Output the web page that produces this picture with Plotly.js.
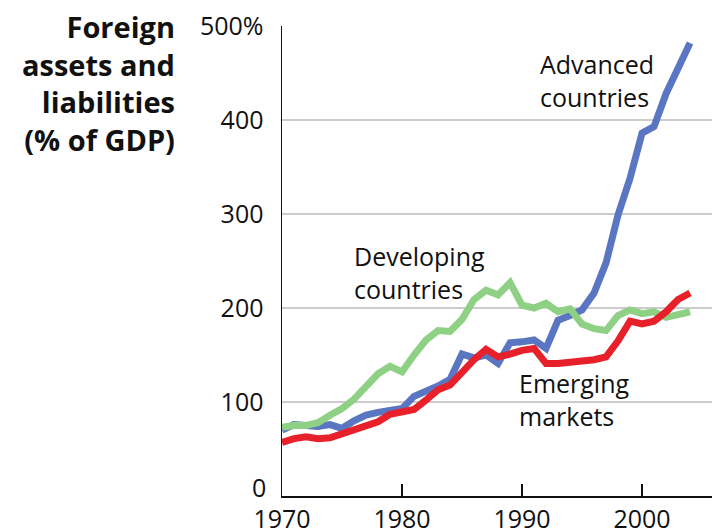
<!DOCTYPE html>
<html>
<head>
<meta charset="utf-8">
<script src="https://cdn.plot.ly/plotly-3.0.1.min.js"></script>
<style>html,body{margin:0;padding:0;background:#fff;}#chart{width:712px;height:531px;}</style>
</head>
<body>
<div id="chart"></div>
<script>
const years = [1970,1971,1972,1973,1974,1975,1976,1977,1978,1979,1980,1981,1982,1983,1984,1985,1986,1987,1988,1989,1990,1991,1992,1993,1994,1995,1996,1997,1998,1999,2000,2001,2002,2003,2004];
const advanced = [70,76,75,74,76,72,80,86,89,91,93,106,111,117,124,151,147,150,141,163,164,166,157,187,192,198,216,248,299,338,386,393,428,457,482];
const developing = [73,75,75,78,86,93,103,116,130,138,132,150,166,176,175,188,209,219,214,227,203,200,205,196,199,183,178,176,192,198,194,196,190,193,196];
const emerging = [57,61,63,61,62,66,70,74,79,87,89,92,102,113,118,132,145,156,148,151,155,157,141,141,142,143,145,148,165,186,183,186,196,209,216];
const yTickVals = [0,100,200,300,400,500];
const yTickText = ['0','100','200','300','400','500%'];
const xTickVals = [1970,1980,1990,2000];
const xTickText = ['1970','1980','1990','2000'];

const FONT = 'Open Sans, Noto Sans, sans-serif';
const traces = [
  {x: years, y: advanced, name: 'Advanced countries', mode: 'lines', line: {color: '#5a76c3', width: 7}},
  {x: years, y: developing, name: 'Developing countries', mode: 'lines', line: {color: '#8fd184', width: 7}},
  {x: years, y: emerging, name: 'Emerging markets', mode: 'lines', line: {color: '#e8202a', width: 7}}
];
// the bottom "0" label sits a little higher than its gridline in the reference
const yTickTextShown = yTickText.map((t, i) => i === 0 ? '' : t);
const layout = {
  width: 712, height: 531,
  margin: {l: 282, r: 0, t: 26, b: 35, pad: 0},
  paper_bgcolor: '#fff', plot_bgcolor: '#fff',
  showlegend: false,
  font: {family: FONT, size: 25, color: '#111'},
  xaxis: {
    range: [1970, 2005.83], tickvals: xTickVals, ticktext: xTickText,
    showgrid: false, zeroline: false, showline: true, linecolor: '#111', linewidth: 1.5,
    ticks: 'inside', ticklen: 12, tickwidth: 1.5, tickcolor: '#111',
    tickfont: {family: FONT, size: 25, color: '#111'}, fixedrange: true
  },
  yaxis: {
    range: [0, 500], tickvals: yTickVals, ticktext: yTickTextShown,
    showgrid: true, gridcolor: '#cccccc', gridwidth: 2, zeroline: false,
    showline: true, linecolor: '#111', linewidth: 1.5, ticks: '',
    ticklabelstandoff: 12,
    tickfont: {family: FONT, size: 25, color: '#111'}, fixedrange: true
  },
  annotations: [
    {xref: 'paper', yref: 'y', x: -0.0326, y: yTickVals[0], yshift: 9, xanchor: 'right', yanchor: 'middle', showarrow: false,
     text: yTickText[0], font: {family: FONT, size: 25, color: '#111'}},
    {xref: 'paper', yref: 'paper', x: -0.244, y: 0.8787, xanchor: 'right', yanchor: 'middle', align: 'right', showarrow: false,
     text: '<b>Foreign<br>assets and<br>liabilities<br>(% of GDP)</b>', font: {family: FONT, size: 29, color: '#111'}},
    {x: 1991.33, y: 442, xanchor: 'left', yanchor: 'middle', align: 'left', showarrow: false,
     text: 'Advanced<br>countries', font: {family: FONT, size: 25, color: '#111'}},
    {x: 1975.83, y: 238, xanchor: 'left', yanchor: 'middle', align: 'left', showarrow: false,
     text: 'Developing<br>countries', font: {family: FONT, size: 25, color: '#111'}},
    {x: 1989.58, y: 103, xanchor: 'left', yanchor: 'middle', align: 'left', showarrow: false,
     text: 'Emerging<br>markets', font: {family: FONT, size: 25, color: '#111'}}
  ]
};
Plotly.newPlot('chart', traces, layout, {displayModeBar: false, staticPlot: true});
</script>
</body>
</html>
